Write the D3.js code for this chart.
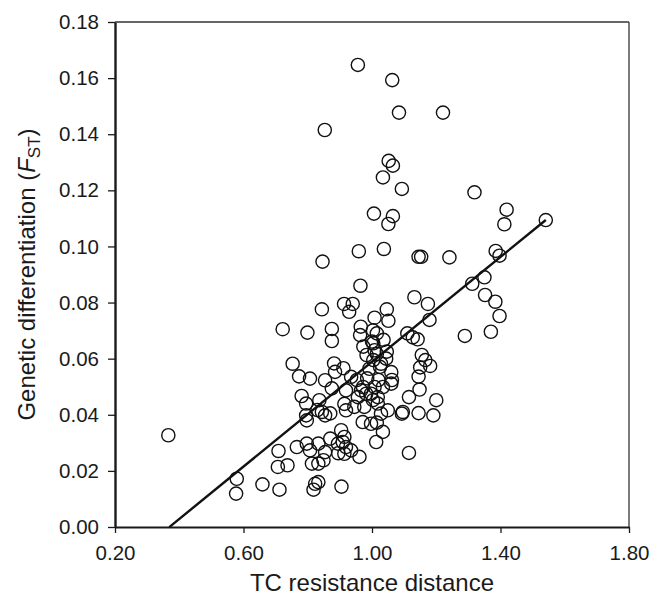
<!DOCTYPE html>
<html lang="en">
<head>
    <meta charset="UTF-8">
    <title>FST vs TC resistance distance</title>
    <style>
        body { margin: 0; background: #fff; }
        svg { display: block; font-family: "Liberation Sans", Arial, sans-serif; }
        .axis path, .axis line { stroke: #1a1a1a; }
        .axis text { fill: #1a1a1a; font-size: 20.5px; }
        .point { fill: none; stroke: #111; stroke-width: 1.4; }
    </style>
</head>
<body>
<div id="chart"></div>

<script src="https://d3js.org/d3.v7.min.js"></script>
<script>
    // Pairwise values
    var distance = [
        0.956, 1.063, 1.084, 1.221, 0.853, 1.052, 1.065, 1.034, 1.093, 1.319,
        1.419, 1.412, 1.541, 1.006, 1.065, 1.051, 0.959, 1.037, 1.145, 1.153,
        1.241, 1.385, 1.397, 0.964, 1.312, 1.350, 1.352, 1.384, 1.397, 1.289,
        1.370, 0.846, 0.913, 0.940, 0.929, 1.132, 1.174, 1.179, 1.046, 1.008,
        1.051, 0.875, 0.965, 0.875, 0.963, 1.000, 1.015, 1.110, 1.127, 1.142,
        0.973, 1.004, 1.036, 0.983, 1.015, 1.046, 0.882, 0.911, 1.004, 1.025,
        1.155, 1.166, 1.181, 1.150, 1.145, 1.148, 0.953, 0.985, 1.020, 1.062,
        0.366, 0.579, 0.577, 0.659, 0.712, 0.709, 0.707, 0.737, 0.722, 0.799,
        0.844, 0.753, 0.773, 0.807, 0.781, 0.795, 0.795, 0.797, 0.836, 0.844,
        0.854, 0.854, 0.766, 0.797, 0.807, 0.833, 0.813, 0.833, 0.849, 0.854,
        0.823, 0.818, 0.833, 0.870, 0.875, 0.885, 0.830, 0.870, 0.895, 0.905,
        1.003, 1.008, 1.044, 1.028, 0.992, 1.115, 1.200, 1.191, 1.145, 1.093,
        1.096, 1.060, 1.018, 1.003, 1.018, 0.982, 0.966, 0.956, 0.935, 0.919,
        0.914, 0.919, 0.971, 0.997, 1.034, 1.013, 0.904, 0.914, 0.909, 0.919,
        0.894, 0.961, 0.914, 0.935, 1.115, 1.049, 1.028, 0.997, 0.976, 0.945,
        1.034, 1.060, 0.972, 1.008, 1.015
    ];
    var fst = [
        0.1647, 0.1593, 0.1477, 0.1477, 0.1415, 0.1305, 0.1288, 0.1246, 0.1205, 0.1193,
        0.1131, 0.1079, 0.1094, 0.1117, 0.1108, 0.1080, 0.0983, 0.0991, 0.0963, 0.0963,
        0.0961, 0.0984, 0.0967, 0.0860, 0.0867, 0.0890, 0.0827, 0.0803, 0.0752, 0.0681,
        0.0696, 0.0946, 0.0795, 0.0795, 0.0767, 0.0819, 0.0795, 0.0738, 0.0776, 0.0746,
        0.0735, 0.0706, 0.0714, 0.0663, 0.0684, 0.0661, 0.0690, 0.0690, 0.0676, 0.0669,
        0.0643, 0.0655, 0.0667, 0.0613, 0.0617, 0.0625, 0.0583, 0.0566, 0.0595, 0.0571,
        0.0613, 0.0595, 0.0574, 0.0569, 0.0536, 0.0490, 0.0524, 0.0530, 0.0524, 0.0524,
        0.0327, 0.0172, 0.0119, 0.0152, 0.0133, 0.0271, 0.0214, 0.0220, 0.0705, 0.0693,
        0.0776, 0.0582, 0.0537, 0.0529, 0.0467, 0.0440, 0.0398, 0.0380, 0.0452, 0.0410,
        0.0398, 0.0523, 0.0285, 0.0297, 0.0273, 0.0297, 0.0226, 0.0226, 0.0238, 0.0267,
        0.0154, 0.0133, 0.0160, 0.0315, 0.0494, 0.0553, 0.0417, 0.0405, 0.0263, 0.0144,
        0.0701, 0.0630, 0.0600, 0.0582, 0.0564, 0.0463, 0.0452, 0.0398, 0.0406, 0.0404,
        0.0410, 0.0511, 0.0463, 0.0452, 0.0440, 0.0475, 0.0487, 0.0463, 0.0535, 0.0487,
        0.0439, 0.0416, 0.0374, 0.0368, 0.0339, 0.0303, 0.0345, 0.0321, 0.0303, 0.0285,
        0.0297, 0.0250, 0.0261, 0.0273, 0.0264, 0.0416, 0.0404, 0.0475, 0.0428, 0.0428,
        0.0499, 0.0552, 0.0499, 0.0499, 0.0372
    ];

    // Fitted regression line and its x extent
    var fitIntercept = -0.0345;
    var fitSlope = 0.0934;
    var fitRange = [0.369, 1.541];

    var xTicks = [0.20, 0.60, 1.00, 1.40, 1.80];
    var yTicks = [0.00, 0.02, 0.04, 0.06, 0.08, 0.10, 0.12, 0.14, 0.16, 0.18];

    var margin = { top: 22, right: 33, bottom: 68, left: 115 };
    var width = 662 - margin.left - margin.right;
    var height = 595 - margin.top - margin.bottom;

    var svg = d3.select("#chart").append("svg")
        .attr("width", 662)
        .attr("height", 595)
        .append("g")
        .attr("transform", "translate(" + margin.left + "," + margin.top + ")");

    var x = d3.scaleLinear().domain([0.2, 1.8]).range([0, width]);
    var y = d3.scaleLinear().domain([0, 0.18]).range([height, 0]);

    // thin frame on top and right
    svg.append("line")
        .attr("x1", 0).attr("x2", width).attr("y1", 0).attr("y2", 0)
        .attr("stroke", "#333").attr("stroke-width", 1.4);
    svg.append("line")
        .attr("x1", width).attr("x2", width).attr("y1", 0).attr("y2", height)
        .attr("stroke", "#444").attr("stroke-width", 1.4);

    var xAxis = svg.append("g")
        .attr("class", "axis")
        .attr("transform", "translate(0," + height + ")")
        .call(d3.axisBottom(x).tickValues(xTicks).tickFormat(d3.format(".2f"))
            .tickSize(6).tickSizeOuter(0).tickPadding(12));
    xAxis.select(".domain").attr("stroke-width", 2.2);
    xAxis.selectAll(".tick line").attr("stroke-width", 1.3);

    var yAxis = svg.append("g")
        .attr("class", "axis")
        .call(d3.axisLeft(y).tickValues(yTicks).tickFormat(d3.format(".2f"))
            .tickSize(7).tickSizeOuter(0).tickPadding(9));
    yAxis.select(".domain").attr("stroke-width", 2.4);
    yAxis.selectAll(".tick line").attr("stroke-width", 1.3);

    // points
    var points = distance.map(function(d, i) { return { x: d, y: fst[i] }; });
    svg.selectAll(".point")
        .data(points)
        .enter().append("circle")
        .attr("class", "point")
        .attr("cx", d => x(d.x))
        .attr("cy", d => y(d.y))
        .attr("r", 6.6);

    // regression line
    svg.append("line")
        .attr("x1", x(fitRange[0]))
        .attr("y1", y(fitIntercept + fitSlope * fitRange[0]))
        .attr("x2", x(fitRange[1]))
        .attr("y2", y(fitIntercept + fitSlope * fitRange[1]))
        .attr("stroke", "#111")
        .attr("stroke-width", 2.4);

    // axis titles
    svg.append("text")
        .attr("x", width / 2)
        .attr("y", height + 64)
        .attr("text-anchor", "middle")
        .style("font-size", "24px")
        .style("fill", "#1a1a1a")
        .text("TC resistance distance");

    var yTitle = svg.append("text")
        .attr("transform", "translate(" + (35 - margin.left) + "," + (height / 2) + ") rotate(-90)")
        .attr("text-anchor", "middle")
        .style("font-size", "24px")
        .style("fill", "#1a1a1a");
    yTitle.append("tspan").text("Genetic differentiation (");
    yTitle.append("tspan").style("font-style", "italic").text("F");
    yTitle.append("tspan").attr("dy", 5).style("font-size", "17px").text("ST");
    yTitle.append("tspan").attr("dy", -5).text(")");
</script>

</body>
</html>
